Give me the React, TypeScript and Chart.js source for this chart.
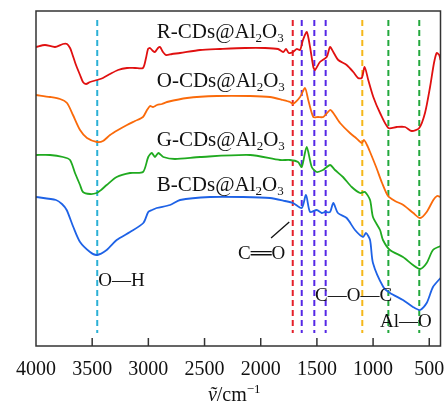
import React, { useEffect, useRef } from "react";
import { Chart, registerables } from "chart.js";

Chart.register(...registerables);

const SERIF = '"Liberation Serif", "Times New Roman", serif';

// x: wavenumber (cm-1), y: transmittance (a.u., offset)
const wnR = [4000, 3920, 3831, 3760, 3724, 3697, 3680, 3644, 3608, 3582, 3555, 3519, 3457, 3404, 3341, 3270, 3190, 3119, 3048, 3021, 3003, 2985, 2959, 2941, 2914, 2896, 2870, 2843, 2790, 2718, 2540, 2362, 2140, 1962, 1846, 1800, 1775, 1750, 1713, 1680, 1650, 1624, 1590, 1561, 1532, 1517, 1473, 1413, 1383, 1354, 1310, 1235, 1176, 1134, 1101, 1075, 1043, 998, 938, 864, 790, 716, 656, 589, 538, 493, 458, 434, 411, 400];
const valR = [299, 301, 299, 302, 302, 298, 293, 281, 271, 264, 262, 264, 266, 268, 272, 276, 278, 278, 278, 288, 297, 298, 295, 294, 298, 299, 294, 291, 292, 293, 296, 297, 298, 298, 297, 294, 297, 293, 294, 297, 296, 306, 314, 299, 279, 276, 284, 289, 299, 294, 286, 281, 274, 268, 268, 279, 266, 249, 233, 218, 219, 219, 215, 218, 233, 259, 283, 293, 291, 286];

const wnO = [4000, 3875, 3786, 3724, 3671, 3608, 3546, 3457, 3404, 3341, 3270, 3190, 3119, 3048, 3012, 2985, 2959, 2923, 2879, 2834, 2656, 2389, 2095, 1917, 1802, 1739, 1713, 1650, 1606, 1577, 1532, 1490, 1443, 1383, 1354, 1294, 1206, 1152, 1101, 1081, 1054, 1027, 973, 920, 867, 805, 731, 642, 582, 523, 464, 431, 400];
const valO = [251, 249, 247, 243, 231, 216, 208, 204, 205, 211, 216, 221, 225, 229, 236, 240, 239, 241, 242, 244, 248, 250, 250, 249, 246, 244, 242, 249, 258, 246, 229, 229, 229, 236, 233, 223, 213, 208, 203, 206, 201, 194, 179, 163, 150, 145, 141, 133, 128, 134, 146, 150, 149];

const wnG = [4000, 3875, 3760, 3697, 3653, 3608, 3582, 3519, 3460, 3421, 3371, 3282, 3163, 3048, 3001, 2970, 2941, 2911, 2867, 2763, 2540, 2095, 1828, 1739, 1668, 1635, 1591, 1546, 1502, 1446, 1383, 1339, 1268, 1190, 1116, 1072, 1027, 1001, 938, 912, 850, 734, 645, 582, 523, 467, 400];
const valG = [191, 191, 189, 186, 173, 161, 154, 152, 153, 156, 161, 169, 173, 174, 189, 193, 189, 193, 189, 187, 189, 191, 186, 186, 184, 179, 199, 179, 174, 176, 181, 176, 169, 159, 153, 154, 146, 129, 116, 106, 96, 89, 81, 77, 83, 96, 100];

const wnB = [4000, 3822, 3769, 3727, 3668, 3608, 3519, 3460, 3371, 3282, 3163, 3045, 3001, 2968, 2926, 2807, 2718, 2451, 2158, 1917, 1784, 1713, 1635, 1597, 1561, 1502, 1457, 1428, 1383, 1354, 1313, 1235, 1161, 1090, 1063, 1027, 1001, 909, 849, 734, 645, 582, 523, 467, 400];
const valB = [149, 146, 142, 136, 119, 104, 94, 91, 96, 106, 114, 123, 134, 136, 138, 141, 146, 149, 149, 148, 145, 143, 138, 151, 134, 136, 133, 134, 134, 143, 133, 128, 116, 109, 113, 106, 83, 59, 53, 46, 39, 36, 43, 59, 68];

const seriesNames = ["R-CDs@Al2O3", "O-CDs@Al2O3", "G-CDs@Al2O3", "B-CDs@Al2O3"];
const seriesColors = ["#e01010", "#fa6a0a", "#20aa20", "#1e62e6"];
const seriesLabelY = [308, 259, 200, 155];
const seriesLabelWn = 2925;

const xTicks = [4000, 3500, 3000, 2500, 2000, 1500, 1000, 500];

const peakWn = [3455, 1715, 1635, 1523, 1422, 1096, 864, 589];
const peakColors = ["#2bb0d6", "#e4202a", "#5528e6", "#5528e6", "#5528e6", "#f5b81a", "#22a83c", "#22a83c"];

const bondLabels = ["O\u2014H", "C\u2550O", "C\u2014O\u2014C", "Al\u2014O"];
const bondWn = [3446, 2202, 1517, 938];
const bondY = [60, 87, 45, 19];

function drawRich(ctx: CanvasRenderingContext2D, text: string, x: number, y: number, size: number) {
  let cx = x;
  for (const ch of text.split(/(\d)/)) {
    if (!ch) continue;
    const isSub = /^\d$/.test(ch);
    const s = isSub ? size * 0.62 : size;
    ctx.font = `${s}px ${SERIF}`;
    ctx.fillText(ch, cx, isSub ? y + size * 0.2 : y);
    cx += ctx.measureText(ch).width;
  }
}

// draws a bond label; the double-bond glyph is stretched horizontally
function drawBond(ctx: CanvasRenderingContext2D, text: string, x: number, y: number) {
  let cx = x;
  for (const ch of Array.from(text)) {
    const w = ctx.measureText(ch).width;
    if (ch === "\u2550") {
      ctx.save();
      ctx.translate(cx, y);
      ctx.scale(1.55, 1);
      ctx.fillText(ch, 0, 0);
      ctx.restore();
      cx += w * 1.55;
    } else {
      ctx.fillText(ch, cx, y);
      cx += w;
    }
  }
}

const decor = {
  id: "ftirDecor",
  beforeDatasetsDraw(chart: any) {
    const { ctx, scales } = chart;
    const xs = scales.x, ys = scales.y;
    ctx.save();
    ctx.lineWidth = 2;
    ctx.setLineDash([6, 4]);
    peakWn.forEach((w, i) => {
      const px = xs.getPixelForValue(w);
      ctx.strokeStyle = peakColors[i];
      ctx.beginPath();
      ctx.moveTo(px, ys.getPixelForValue(326));
      ctx.lineTo(px, ys.getPixelForValue(13));
      ctx.stroke();
    });
    ctx.restore();
  },
  afterDraw(chart: any) {
    const { ctx, scales, chartArea: a } = chart;
    const xs = scales.x, ys = scales.y;
    ctx.save();
    // frame
    ctx.strokeStyle = "#333";
    ctx.lineWidth = 1.5;
    ctx.strokeRect(a.left, a.top, a.right - a.left, a.bottom - a.top);
    // inner ticks
    xTicks.forEach((t) => {
      if (t === 4000) return;
      const px = xs.getPixelForValue(t);
      ctx.beginPath();
      ctx.moveTo(px, a.bottom);
      ctx.lineTo(px, a.bottom - 8);
      ctx.stroke();
    });
    ctx.fillStyle = "#111";
    ctx.textBaseline = "alphabetic";
    ctx.textAlign = "left";
    // series labels
    seriesNames.forEach((n, i) => {
      drawRich(ctx, n, xs.getPixelForValue(seriesLabelWn), ys.getPixelForValue(seriesLabelY[i]), 21);
    });
    // bond labels
    ctx.font = `19px ${SERIF}`;
    bondLabels.forEach((b, i) => {
      drawBond(ctx, b, xs.getPixelForValue(bondWn[i]), ys.getPixelForValue(bondY[i]));
    });
    // leader for C=O
    ctx.strokeStyle = "#111";
    ctx.lineWidth = 1.3;
    ctx.beginPath();
    ctx.moveTo(xs.getPixelForValue(1908), ys.getPixelForValue(108));
    ctx.lineTo(xs.getPixelForValue(1746), ys.getPixelForValue(124));
    ctx.stroke();
    // axis title
    const cx = (a.left + a.right) / 2 - 4;
    const by = 401;
    const p1 = "\u1E7D";
    ctx.font = `italic 20px ${SERIF}`;
    const w1 = ctx.measureText(p1).width;
    ctx.font = `20px ${SERIF}`;
    const p2 = "/cm";
    const w2 = ctx.measureText(p2).width;
    ctx.font = `13px ${SERIF}`;
    const p3 = "\u22121";
    const w3 = ctx.measureText(p3).width;
    let x0 = cx - (w1 + w2 + w3) / 2;
    ctx.font = `italic 20px ${SERIF}`;
    ctx.fillText(p1, x0, by);
    x0 += w1;
    ctx.font = `20px ${SERIF}`;
    ctx.fillText(p2, x0, by);
    x0 += w2;
    ctx.font = `13px ${SERIF}`;
    ctx.fillText(p3, x0, by - 8);
    ctx.restore();
  },
};

export default function App() {
  const ref = useRef<HTMLCanvasElement>(null);
  useEffect(() => {
    if (!ref.current) return;
    const sets = [
      [wnR, valR],
      [wnO, valO],
      [wnG, valG],
      [wnB, valB],
    ];
    const chart = new Chart(ref.current, {
      type: "line",
      data: {
        datasets: sets.map(([w, v], i) => ({
          label: seriesNames[i],
          data: w.map((x, j) => ({ x, y: v[j] })),
          borderColor: seriesColors[i],
          borderWidth: 1.8,
          pointRadius: 0,
          tension: 0.25,
          fill: false,
        })),
      },
      options: {
        responsive: false,
        animation: false,
        layout: { padding: { left: 36, right: 5.5, top: 11, bottom: 0 } },
        plugins: { legend: { display: false }, tooltip: { enabled: false } },
        scales: {
          x: {
            type: "linear",
            reverse: true,
            min: 400,
            max: 4000,
            afterBuildTicks: (s: any) => {
              s.ticks = xTicks.map((v) => ({ value: v }));
            },
            afterFit: (s: any) => {
              s.height = 60;
              s.paddingLeft = 0;
              s.paddingRight = 0;
            },
            grid: { display: false, drawTicks: false },
            border: { display: false },
            ticks: {
              font: { family: SERIF, size: 20 },
              color: "#111",
              padding: 12,
              maxRotation: 0,
              autoSkip: false,
              callback: (v: any) => String(v),
            },
          },
          y: { display: false, min: 0, max: 335 },
        },
      },
      plugins: [decor],
    });
    return () => chart.destroy();
  }, []);
  return (
    <div style={{ position: "fixed", left: 0, top: 0, width: 446, height: 406, background: "#fff" }}>
      <canvas ref={ref} width={446} height={406} style={{ width: 446, height: 406 }} />
    </div>
  );
}
